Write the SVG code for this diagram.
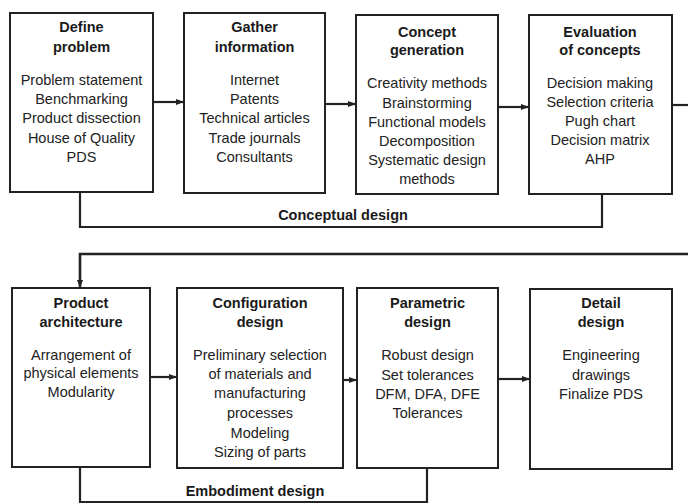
<svg xmlns="http://www.w3.org/2000/svg" width="688" height="504" viewBox="0 0 688 504">
<style>
.box{fill:#fff;stroke:#222;stroke-width:2}
.t{font-family:"Liberation Sans",Arial,sans-serif;font-size:14.5px;font-weight:bold;fill:#1a1a1a;text-anchor:middle}
.b{font-family:"Liberation Sans",Arial,sans-serif;font-size:14.5px;fill:#222;text-anchor:middle}
.c{fill:none;stroke:#222;stroke-width:2.2}
</style>
<defs>
<marker id="ah" markerWidth="8" markerHeight="8" refX="7" refY="4" orient="auto" markerUnits="userSpaceOnUse">
<path d="M0,1 L8,4 L0,7 z" fill="#222"/>
</marker>
</defs>
<rect width="688" height="504" fill="#fff"/>
<g id="connectors">
<line class="c" x1="153" y1="102" x2="183" y2="102" marker-end="url(#ah)"/>
<line class="c" x1="325" y1="104" x2="355" y2="104" marker-end="url(#ah)"/>
<line class="c" x1="498" y1="107" x2="528" y2="107" marker-end="url(#ah)"/>
<line class="c" x1="672" y1="105" x2="688" y2="105"/>
<polyline class="c" points="688,254 80,254 80,287" marker-end="url(#ah)" style="stroke-width:2.6"/>
<polyline class="c" points="80,192 80,227 602,227 602,194"/>
<text class="t" x="343" y="220">Conceptual design</text>
<line class="c" x1="150" y1="377" x2="176" y2="377" marker-end="url(#ah)"/>
<line class="c" x1="343" y1="380" x2="356" y2="380" marker-end="url(#ah)"/>
<line class="c" x1="498" y1="379" x2="529" y2="379" marker-end="url(#ah)"/>
<polyline class="c" points="80,467 80,502 427,502 427,468"/>
<text class="t" x="255" y="496">Embodiment design</text>
</g>
<g id="define-problem">
<rect class="box" x="10" y="13" width="143" height="179"/>
<text class="t" x="81.5" y="32">Define</text>
<text class="t" x="81.5" y="52">problem</text>
<text class="b" x="81.5" y="85">Problem statement</text>
<text class="b" x="81.5" y="104">Benchmarking</text>
<text class="b" x="81.5" y="123">Product dissection</text>
<text class="b" x="81.5" y="143">House of Quality</text>
<text class="b" x="81.5" y="162">PDS</text>
</g>
<g id="gather-information">
<rect class="box" x="184" y="13" width="141" height="180"/>
<text class="t" x="254.5" y="32">Gather</text>
<text class="t" x="254.5" y="52">information</text>
<text class="b" x="254.5" y="85">Internet</text>
<text class="b" x="254.5" y="104">Patents</text>
<text class="b" x="254.5" y="123">Technical articles</text>
<text class="b" x="254.5" y="143">Trade journals</text>
<text class="b" x="254.5" y="162">Consultants</text>
</g>
<g id="concept-generation">
<rect class="box" x="356" y="15" width="142" height="179"/>
<text class="t" x="427" y="37">Concept</text>
<text class="t" x="427" y="55">generation</text>
<text class="b" x="427" y="88">Creativity methods</text>
<text class="b" x="427" y="108">Brainstorming</text>
<text class="b" x="427" y="127">Functional models</text>
<text class="b" x="427" y="146">Decomposition</text>
<text class="b" x="427" y="165">Systematic design</text>
<text class="b" x="427" y="184">methods</text>
</g>
<g id="evaluation-of-concepts">
<rect class="box" x="529" y="15" width="143" height="179"/>
<text class="t" x="600" y="37">Evaluation</text>
<text class="t" x="600" y="55">of concepts</text>
<text class="b" x="600" y="88">Decision making</text>
<text class="b" x="600" y="107">Selection criteria</text>
<text class="b" x="600" y="126">Pugh chart</text>
<text class="b" x="600" y="145">Decision matrix</text>
<text class="b" x="600" y="164">AHP</text>
</g>
<g id="product-architecture">
<rect class="box" x="12" y="288" width="138" height="179"/>
<text class="t" x="81" y="308">Product</text>
<text class="t" x="81" y="327">architecture</text>
<text class="b" x="81" y="360">Arrangement of</text>
<text class="b" x="81" y="378">physical elements</text>
<text class="b" x="81" y="397">Modularity</text>
</g>
<g id="configuration-design">
<rect class="box" x="177" y="288" width="166" height="180"/>
<text class="t" x="260" y="308">Configuration</text>
<text class="t" x="260" y="327">design</text>
<text class="b" x="260" y="360">Preliminary selection</text>
<text class="b" x="260" y="379">of materials and</text>
<text class="b" x="260" y="398">manufacturing</text>
<text class="b" x="260" y="418">processes</text>
<text class="b" x="260" y="438">Modeling</text>
<text class="b" x="260" y="457">Sizing of parts</text>
</g>
<g id="parametric-design">
<rect class="box" x="357" y="288" width="141" height="180"/>
<text class="t" x="427.5" y="308">Parametric</text>
<text class="t" x="427.5" y="327">design</text>
<text class="b" x="427.5" y="360">Robust design</text>
<text class="b" x="427.5" y="380">Set tolerances</text>
<text class="b" x="427.5" y="399">DFM, DFA, DFE</text>
<text class="b" x="427.5" y="418">Tolerances</text>
</g>
<g id="detail-design">
<rect class="box" x="530" y="289" width="142" height="180"/>
<text class="t" x="601" y="308">Detail</text>
<text class="t" x="601" y="327">design</text>
<text class="b" x="601" y="360">Engineering</text>
<text class="b" x="601" y="380">drawings</text>
<text class="b" x="601" y="399">Finalize PDS</text>
</g>
</svg>
